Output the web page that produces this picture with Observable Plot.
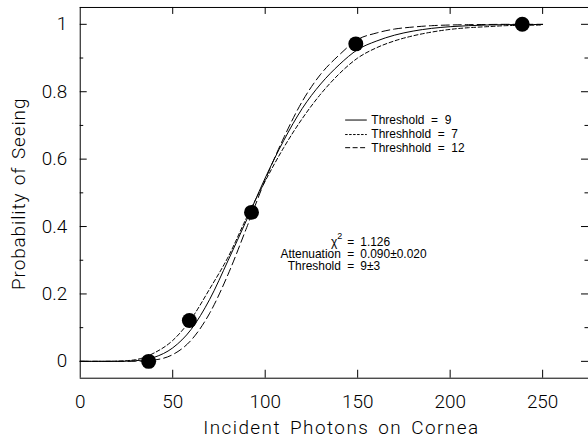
<!DOCTYPE html>
<html><head><meta charset="utf-8">
<script src="https://cdn.jsdelivr.net/npm/d3@7"></script>
<script src="https://cdn.jsdelivr.net/npm/@observablehq/plot@0.6"></script>
<style>
body{margin:0;background:#fff}
#wrap{width:588px;height:441px;overflow:hidden;background:#fff}
</style></head><body><div id="wrap"></div>
<script>
// Curve samples
const photons = [0,10,20,30,40,50,60,70,80,90,100,110,120,130,140,150,160,170,180,190,200,210,220,230,240,250];
const pThr9  = [0,0,0.0001,0.002,0.012,0.040,0.095,0.184,0.300,0.420,0.544,0.655,0.750,0.823,0.880,0.925,0.950,0.968,0.980,0.988,0.993,0.996,0.998,0.999,0.9993,0.9996];
const pThr7  = [0,0,0.0006,0.005,0.025,0.062,0.126,0.215,0.310,0.427,0.535,0.634,0.720,0.793,0.853,0.900,0.930,0.951,0.966,0.977,0.985,0.990,0.993,0.996,0.997,0.998];
const pThr12 = [0,0,0,0.0004,0.004,0.020,0.063,0.143,0.259,0.397,0.538,0.663,0.771,0.852,0.909,0.955,0.974,0.986,0.992,0.996,0.998,0.999,0.9995,1,1,1];
// Observed points
const obsPhotons = [37, 59, 92.6, 149, 239];
const obsProb    = [0, 0.121, 0.442, 0.942, 1.0];
// Ticks
const xTicks = [0,50,100,150,200,250];
const yTicks = [0,0.2,0.4,0.6,0.8,1];
const yMinor = [0.1,0.3,0.5,0.7,0.9];
// Text
const legendLabels = ["Threshold\u00a0\u00a0=\u00a0\u00a09", "Threshhold\u00a0\u00a0=\u00a0\u00a07", "Threshhold\u00a0\u00a0=\u00a0\u00a012"];
const legendDash = [null, "2.5,1.5", "5,2.5"];
const curveDash = [null, "4,2.5", "8,4"];
const statLabels = ["\u03c7", "Attenuation", "Threshold"];
const statSup = ["2", "", ""];
const statValues = ["1.126", "0.090\u00b10.020", "9\u00b13"];
const xTitle = "Incident Photons on Cornea";
const yTitle = "Probability of Seeing";

const xDomain = [0, 274.8];
const yDomain = [-0.05, 1.05];
const W = 590, H = 441, mL = 80, mT = 7, mB = 62, mR = 0;
const iw = W - mL - mR, ih = H - mT - mB;

const series = [pThr9, pThr7, pThr12];
const curveRows = series.flatMap((s, k) => photons.map((x, i) => ({x, p: s[i], k})));
const obs = obsPhotons.map((x, i) => ({x, p: obsProb[i]}));
const legendRows = legendLabels.map((t, i) => ({t, i, y: [0.716, 0.673, 0.634][i]}));
const statRows = statLabels.map((t, i) => ({t, s: statSup[i], v: statValues[i], y: [0.355, 0.318, 0.281][i]}));

const tickFont = {fontFamily: "Roboto, 'Liberation Sans', sans-serif", fontWeight: 300, fontSize: 19};
const smallFont = {fontFamily: "'Liberation Sans', Arial, sans-serif", fontSize: 12};

const chart = Plot.plot({
  width: W, height: H,
  marginLeft: mL, marginRight: mR, marginTop: mT, marginBottom: mB,
  x: {domain: xDomain, label: null},
  y: {domain: yDomain, label: null},
  style: {background: "#fff", color: "#000"},
  marks: [
    // frame (left, top, bottom)
    Plot.ruleX([xDomain[0]], {stroke: "#000", strokeWidth: 1}),
    Plot.ruleY(yDomain, {stroke: "#000", strokeWidth: 1}),
    // inward ticks
    Plot.ruleX(xTicks.slice(1), {insetTop: ih - 8, stroke: "#000"}),
    Plot.ruleX(xTicks.slice(1), {insetBottom: ih - 7, stroke: "#000"}),
    Plot.ruleY(yTicks, {insetRight: iw - 7, stroke: "#000"}),
    Plot.ruleY(yMinor, {insetRight: iw - 3.5, stroke: "#000"}),
    Plot.ruleY(yTicks, {insetLeft: iw - 7, stroke: "#000"}),
    Plot.ruleY(yMinor, {insetLeft: iw - 3.5, stroke: "#000"}),
    // tick labels
    Plot.axisX(xTicks, {anchor: "bottom", tickSize: 0, tickPadding: 16, label: null, ...tickFont}),
    Plot.axisY(yTicks, {anchor: "left", tickSize: 0, tickPadding: 13, label: null, tickFormat: d3.format("~g"), ...tickFont}),
    // curves
    ...series.map((s, k) => Plot.line(curveRows.filter(d => d.k === k), {
      x: "x", y: "p", curve: "monotone-x", stroke: "#000", strokeWidth: 1,
      strokeDasharray: curveDash[k]
    })),
    // observations
    Plot.dot(obs, {x: "x", y: "p", r: 7.5, fill: "#000", stroke: null}),
    // legend
    ...legendRows.map(d => Plot.ruleY([d.y], {x1: 143.5, x2: 155.2, stroke: "#000", strokeWidth: 1, strokeDasharray: legendDash[d.i]})),
    Plot.text(legendRows, {x: 157.4, y: "y", text: "t", textAnchor: "start", fill: "#000", ...smallFont}),
    // fit statistics
    Plot.text(statRows, {x: (d) => d.s ? 139.0 : 140.9, y: "y", text: "t", textAnchor: "end", fill: "#000", ...smallFont}),
    Plot.text(statRows.filter(d => d.s), {x: 139.0, y: "y", text: "s", dy: -6, textAnchor: "start", fill: "#000", fontFamily: smallFont.fontFamily, fontSize: 9}),
    Plot.text(statRows, {x: 146.3, y: "y", text: () => "=", textAnchor: "middle", fill: "#000", ...smallFont}),
    Plot.text(statRows, {x: 151.4, y: "y", text: "v", textAnchor: "start", fill: "#000", ...smallFont}),
    // axis titles
    Plot.text([xTitle], {frameAnchor: "bottom", textAnchor: "middle", lineAnchor: "middle", dx: 7, dy: 50, fill: "#000", ...tickFont}),
    Plot.text([yTitle], {frameAnchor: "left", textAnchor: "middle", lineAnchor: "middle", rotate: -90, dx: -61, dy: 1, fill: "#000", ...tickFont})
  ]
});
// letter spacing of the axis titles, to match the wide lettering
chart.querySelectorAll("text").forEach(t => {
  if (t.textContent === xTitle) { t.setAttribute("letter-spacing", "1.45"); t.setAttribute("word-spacing", "3"); }
  if (t.textContent === yTitle) { t.setAttribute("letter-spacing", "0.9"); t.setAttribute("word-spacing", "2"); }
});
document.getElementById("wrap").appendChild(chart);
</script></body></html>
